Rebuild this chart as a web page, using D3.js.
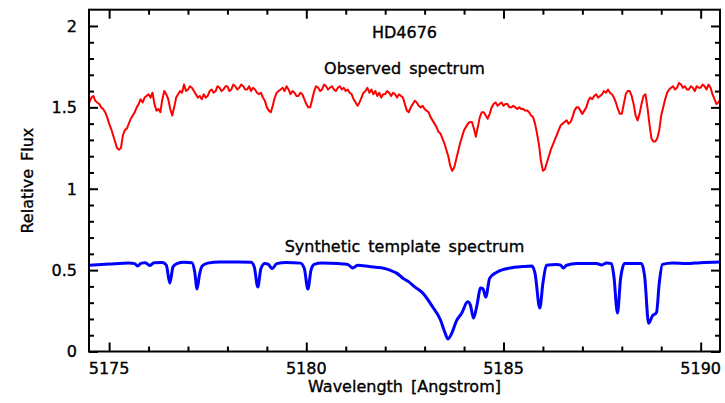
<!DOCTYPE html>
<html><head><meta charset="utf-8">
<script src="https://cdn.jsdelivr.net/npm/d3@7"></script>
<style>
html,body{margin:0;padding:0;background:#fff;}
svg text{font-family:"DejaVu Sans",sans-serif;fill:#000;stroke:#000;stroke-width:0.35px;}
</style></head>
<body>
<svg id="chart" width="725" height="403"></svg>
<script>
// ---- data ----
const title = "HD4676";
const xLabel = "Wavelength [Angstrom]";
const yLabel = "Relative Flux";
const observedLabel = "Observed spectrum";
const syntheticLabel = "Synthetic template spectrum";

const xMajorTicks = [5175, 5180, 5185, 5190];
const yMajorTicks = [0, 0.5, 1, 1.5, 2];
const yTickLabels = ["0", "0.5", "1", "1.5", "2"];

// observed spectrum, sampled every 0.05 A from 5174.5 (one row = 1 A)
const obsStart = 5174.5, obsStep = 0.05;
const observedFlux = [
 1.53,1.56,1.57,1.54,1.53,1.52,1.50,1.49,1.47,1.44, 1.40,1.37,1.33,1.29,1.25,1.24,1.25,1.33,1.36,1.37,
 1.40,1.43,1.45,1.47,1.50,1.52,1.55,1.53,1.56,1.57, 1.58,1.56,1.59,1.52,1.48,1.49,1.47,1.55,1.60,1.58,
 1.55,1.49,1.45,1.50,1.56,1.58,1.60,1.59,1.64,1.60, 1.61,1.63,1.62,1.60,1.58,1.56,1.57,1.55,1.58,1.56,
 1.57,1.60,1.61,1.59,1.60,1.63,1.62,1.60,1.61,1.63, 1.63,1.60,1.61,1.64,1.63,1.61,1.62,1.64,1.63,1.61,
 1.61,1.63,1.60,1.62,1.61,1.59,1.58,1.59,1.56,1.54, 1.50,1.48,1.47,1.51,1.56,1.59,1.60,1.61,1.62,1.60,
 1.63,1.61,1.58,1.60,1.59,1.57,1.57,1.59,1.58,1.55, 1.52,1.50,1.50,1.55,1.60,1.63,1.62,1.60,1.61,1.64,
 1.63,1.61,1.62,1.63,1.61,1.60,1.62,1.63,1.61,1.62, 1.60,1.61,1.59,1.58,1.55,1.53,1.51,1.53,1.56,1.59,
 1.60,1.62,1.59,1.61,1.58,1.60,1.57,1.59,1.56,1.58, 1.58,1.60,1.59,1.57,1.59,1.58,1.56,1.58,1.57,1.56,
 1.52,1.48,1.47,1.50,1.52,1.54,1.53,1.51,1.50,1.51, 1.49,1.48,1.47,1.44,1.42,1.40,1.38,1.35,1.34,1.31,
 1.28,1.24,1.20,1.14,1.11,1.13,1.18,1.23,1.28,1.32, 1.36,1.38,1.40,1.41,1.41,1.37,1.32,1.38,1.44,1.47,
 1.47,1.45,1.43,1.46,1.50,1.52,1.53,1.51,1.52,1.53, 1.51,1.52,1.52,1.50,1.50,1.51,1.50,1.49,1.50,1.49,
 1.49,1.48,1.48,1.47,1.45,1.44,1.40,1.34,1.27,1.17, 1.11,1.12,1.16,1.20,1.24,1.27,1.30,1.33,1.36,1.39,
 1.40,1.41,1.42,1.40,1.41,1.44,1.48,1.50,1.50,1.48, 1.46,1.48,1.50,1.54,1.56,1.55,1.57,1.58,1.56,1.57,
 1.58,1.60,1.59,1.61,1.59,1.58,1.56,1.53,1.49,1.46, 1.46,1.52,1.58,1.60,1.60,1.57,1.52,1.45,1.42,1.46,
 1.52,1.57,1.58,1.50,1.40,1.31,1.29,1.29,1.31,1.36, 1.45,1.50,1.55,1.59,1.61,1.62,1.63,1.61,1.62,1.65,
 1.64,1.62,1.63,1.61,1.61,1.63,1.62,1.60,1.63,1.62, 1.62,1.64,1.63,1.61,1.64,1.62,1.58,1.55,1.52,1.53,
 1.55
];

// synthetic template spectrum
const synthWave = [
 5174.5,5175.0,5175.5,5175.65,5175.72,5175.82,5175.92,5176.03,5176.14,5176.35,
 5176.45,5176.54,5176.62,5176.72,5176.9,5177.1,5177.17,5177.23,5177.29,5177.36,
 5177.5,5177.8,5178.3,5178.6,5178.68,5178.77,5178.85,5178.95,5179.04,5179.13,
 5179.25,5179.5,5179.85,5179.95,5180.04,5180.12,5180.2,5180.4,5180.8,5181.05,
 5181.18,5181.3,5181.6,5181.9,5182.12,5182.3,5182.45,5182.6,5182.75,5182.95,
 5183.2,5183.4,5183.51,5183.59,5183.69,5183.81,5183.94,5184.09,5184.16,5184.24,
 5184.32,5184.42,5184.48,5184.55,5184.65,5184.83,5185.16,5185.5,5185.72,5185.8,
 5185.92,5186.0,5186.09,5186.35,5186.45,5186.52,5186.6,5186.85,5187.36,5187.49,
 5187.61,5187.74,5187.8,5187.89,5187.97,5188.07,5188.5,5188.58,5188.68,5188.78,
 5188.88,5188.95,5189.03,5189.29,5189.64,5190.0,5190.5
];
const synthFlux = [
 0.530,0.537,0.543,0.540,0.525,0.543,0.545,0.528,0.546,0.547,
 0.530,0.420,0.520,0.540,0.548,0.545,0.490,0.384,0.470,0.525,
 0.543,0.550,0.550,0.549,0.520,0.397,0.510,0.540,0.535,0.508,
 0.540,0.547,0.543,0.510,0.384,0.500,0.535,0.543,0.540,0.535,
 0.513,0.530,0.522,0.514,0.500,0.480,0.450,0.428,0.397,0.360,
 0.275,0.195,0.120,0.077,0.113,0.190,0.235,0.305,0.285,0.205,
 0.275,0.390,0.385,0.335,0.450,0.487,0.513,0.522,0.525,0.480,
 0.267,0.420,0.530,0.535,0.530,0.513,0.530,0.540,0.540,0.532,
 0.543,0.540,0.460,0.236,0.450,0.540,0.540,0.460,0.174,0.220,
 0.240,0.420,0.535,0.544,0.540,0.546,0.550
];

// ---- chart ----
const svg = d3.select("#chart");
const L = 89, R = 720, T = 9.7, B = 351.5;
const x = d3.scaleLinear().domain([5174.49, 5190.49]).range([L, R]);
const y = d3.scaleLinear().domain([0, 2.1]).range([B, T]);

svg.append("defs").append("clipPath").attr("id", "clip")
  .append("rect").attr("x", L).attr("y", T).attr("width", R - L).attr("height", B - T);

const obsData = observedFlux.map((f, i) => ({w: obsStart + i * obsStep, f}));
const synData = synthWave.map((w, i) => ({w, f: synthFlux[i]}));

const lineLin = d3.line().x(d => x(d.w)).y(d => y(d.f));
const lineSmooth = d3.line().x(d => x(d.w)).y(d => y(d.f)).curve(d3.curveMonotoneX);

const g = svg.append("g").attr("clip-path", "url(#clip)");
g.append("path").datum(obsData).attr("d", lineLin)
  .attr("fill", "none").attr("stroke", "#ff0000").attr("stroke-width", 2).attr("stroke-linejoin", "round");
g.append("path").datum(synData).attr("d", lineSmooth)
  .attr("fill", "none").attr("stroke", "#0000ff").attr("stroke-width", 3).attr("stroke-linejoin", "round");

// ticks
const xMinor = d3.range(5175, 5191, 1).filter(v => !xMajorTicks.includes(v));
const yMinor = d3.range(0, 21, 1).map(v => v / 10).filter(v => !yMajorTicks.includes(v));
const MAJ = 9, MIN = 5;

function styleAxis(sel) {
  sel.select(".domain").remove();
  sel.selectAll(".tick line").attr("stroke", "#000").attr("stroke-width", 2);
  sel.selectAll(".tick text").remove();
}
svg.append("g").attr("transform", `translate(0,${B})`)
  .call(d3.axisBottom(x).tickValues(xMajorTicks).tickSize(-MAJ)).call(styleAxis);
svg.append("g").attr("transform", `translate(0,${B})`)
  .call(d3.axisBottom(x).tickValues(xMinor).tickSize(-MIN)).call(styleAxis);
svg.append("g").attr("transform", `translate(0,${T})`)
  .call(d3.axisTop(x).tickValues(xMajorTicks).tickSize(-MAJ)).call(styleAxis);
svg.append("g").attr("transform", `translate(0,${T})`)
  .call(d3.axisTop(x).tickValues(xMinor).tickSize(-MIN)).call(styleAxis);
svg.append("g").attr("transform", `translate(${L},0)`)
  .call(d3.axisLeft(y).tickValues(yMajorTicks).tickSize(-MAJ)).call(styleAxis);
svg.append("g").attr("transform", `translate(${L},0)`)
  .call(d3.axisLeft(y).tickValues(yMinor).tickSize(-MIN)).call(styleAxis);
svg.append("g").attr("transform", `translate(${R},0)`)
  .call(d3.axisRight(y).tickValues(yMajorTicks).tickSize(-MAJ)).call(styleAxis);
svg.append("g").attr("transform", `translate(${R},0)`)
  .call(d3.axisRight(y).tickValues(yMinor).tickSize(-MIN)).call(styleAxis);

// frame
svg.append("rect").attr("x", L).attr("y", T).attr("width", R - L).attr("height", B - T)
  .attr("fill", "none").attr("stroke", "#000").attr("stroke-width", 2);

// tick labels
svg.append("g").selectAll("text").data(xMajorTicks).join("text")
  .attr("x", d => x(d)).attr("y", 373.5).attr("text-anchor", "middle")
  .attr("font-size", 16).text(d => d);
svg.append("g").selectAll("text").data(yMajorTicks).join("text")
  .attr("x", 77).attr("y", d => y(d) + 5.8).attr("text-anchor", "end")
  .attr("font-size", 16).text((d, i) => yTickLabels[i]);

// axis titles
svg.append("text").attr("x", (L + R) / 2).attr("y", 392).attr("text-anchor", "middle")
  .attr("font-size", 16).attr("word-spacing", 3).text(xLabel);
svg.append("text").attr("transform", `translate(33,${(T + B) / 2}) rotate(-90)`)
  .attr("text-anchor", "middle").attr("font-size", 16).attr("word-spacing", 3).text(yLabel);

// annotations
svg.append("text").attr("x", (L + R) / 2).attr("y", 37.5).attr("text-anchor", "middle")
  .attr("font-size", 16).text(title);
svg.append("text").attr("x", (L + R) / 2).attr("y", 74).attr("text-anchor", "middle")
  .attr("font-size", 16).attr("word-spacing", 3).text(observedLabel);
svg.append("text").attr("x", (L + R) / 2).attr("y", 251.5).attr("text-anchor", "middle")
  .attr("font-size", 16).attr("word-spacing", 3).text(syntheticLabel);
</script>
</body></html>
